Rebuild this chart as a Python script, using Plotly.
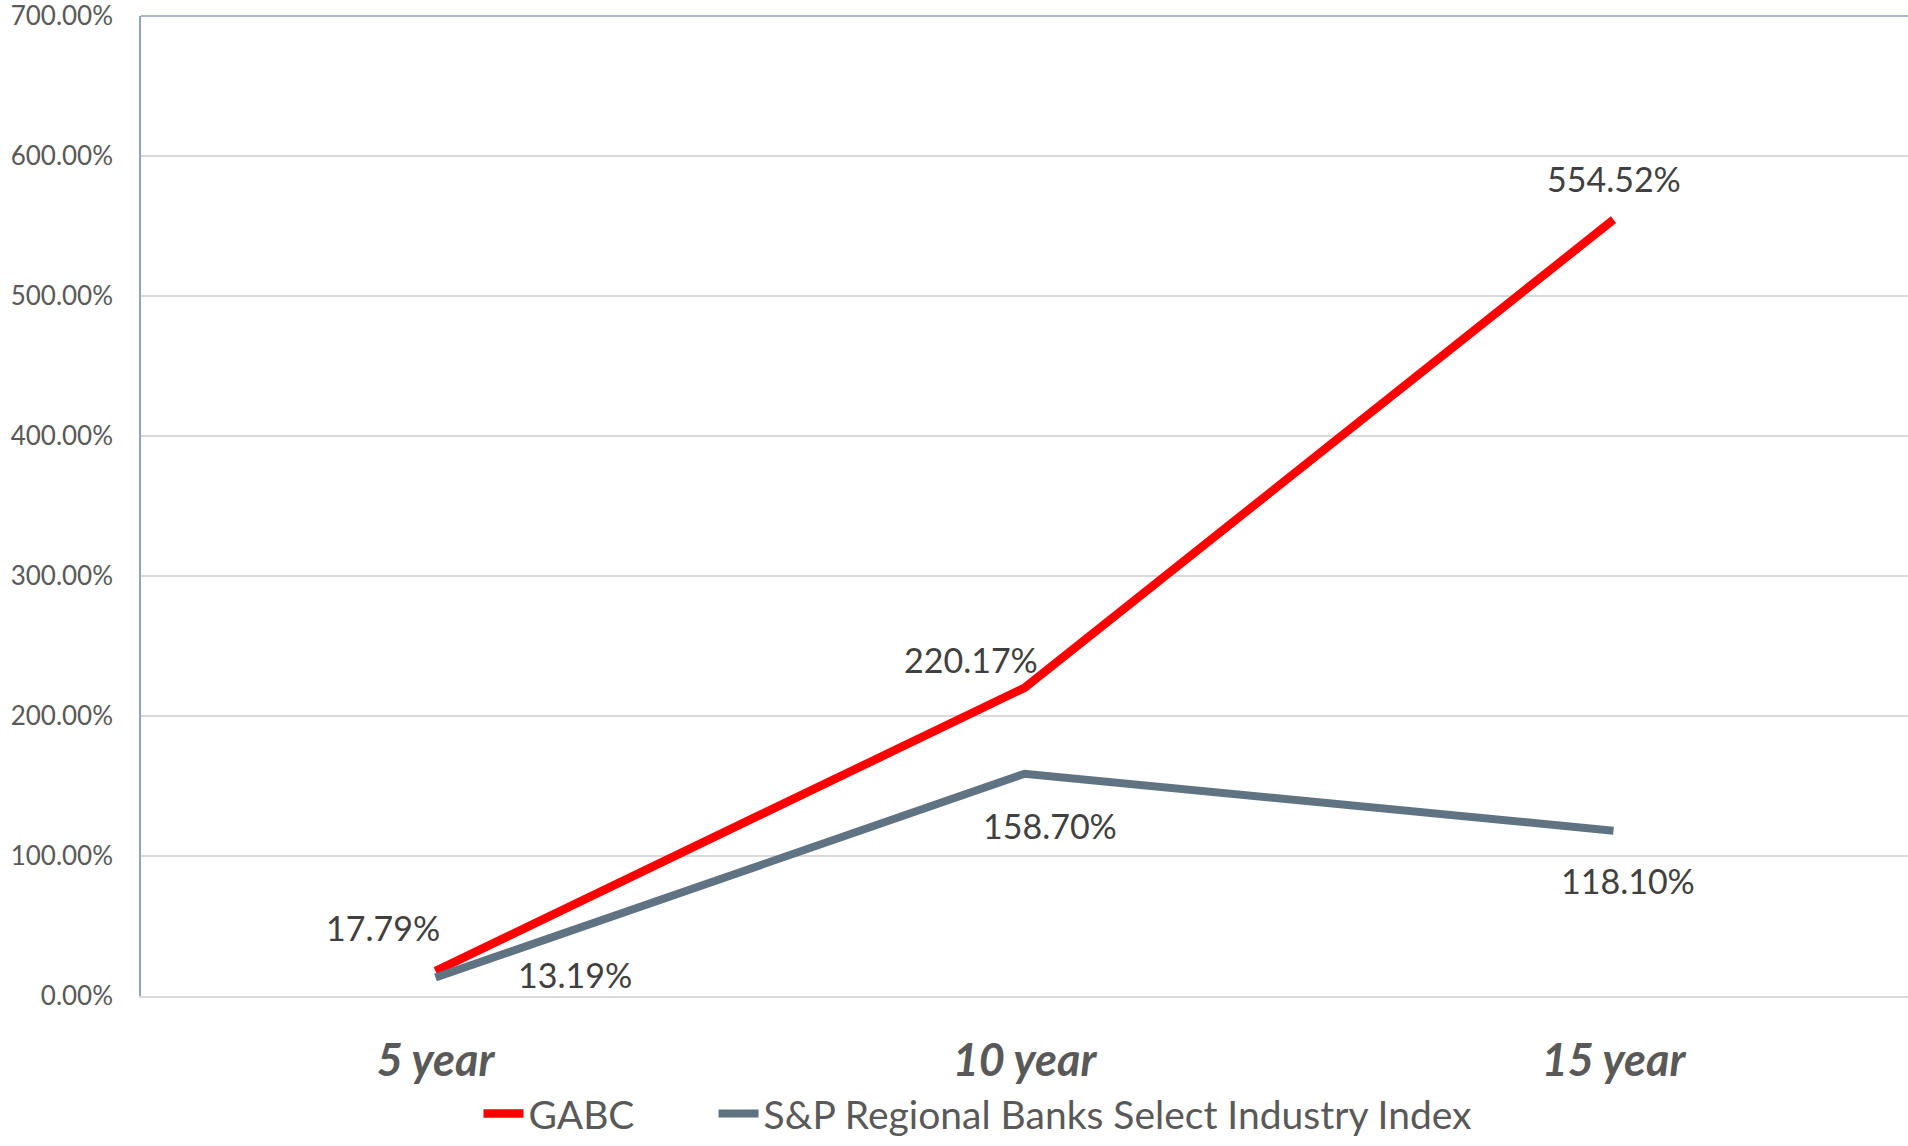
import plotly.graph_objects as go

categories = ["5 year", "10 year", "15 year"]
gabc = [17.79, 220.17, 554.52]
sp_index = [13.19, 158.70, 118.10]
series_names = ["GABC", "S&P Regional Banks Select Industry Index"]
y_ticks = [0, 100, 200, 300, 400, 500, 600, 700]

FONT = "Lato, Carlito, Calibri, sans-serif"
RED = "#FF0000"
GRAY = "#5F7382"

fig = go.Figure()
fig.add_trace(go.Scatter(x=categories, y=gabc, mode="lines", name=series_names[0],
                         line=dict(color=RED, width=8.5), legend="legend"))
fig.add_trace(go.Scatter(x=categories, y=sp_index, mode="lines", name=series_names[1],
                         line=dict(color=GRAY, width=8), legend="legend2"))

# data label offsets (pixels) per point
gabc_off = [(-53, 44), (-54, 28), (0, 41)]
sp_off = [(139, 3), (25, -52), (14, -50)]
for cat, v, (dx, dy) in zip(categories, gabc, gabc_off):
    fig.add_annotation(x=cat, y=v, text=f"{v:.2f}%", showarrow=False,
                       xshift=dx, yshift=dy, font=dict(size=34, color="#404040", family=FONT))
for cat, v, (dx, dy) in zip(categories, sp_index, sp_off):
    fig.add_annotation(x=cat, y=v, text=f"{v:.2f}%", showarrow=False,
                       xshift=dx, yshift=dy, font=dict(size=34, color="#404040", family=FONT))

# top border line
fig.add_shape(type="line", xref="paper", yref="paper", x0=0, x1=1, y0=1, y1=1,
              line=dict(color="#8EA2C4", width=1.5))

legend_common = dict(orientation="h", yanchor="middle", y=-0.12, xanchor="left",
                     font=dict(size=39, color="#595959", family=FONT),
                     itemwidth=40, bgcolor="rgba(0,0,0,0)")

fig.update_layout(
    width=1908, height=1146,
    margin=dict(l=141, r=0, t=16, b=146),
    plot_bgcolor="white", paper_bgcolor="white",
    font=dict(family=FONT, color="#595959"),
    showlegend=True,
    legend=dict(x=0.191, **legend_common),
    legend2=dict(x=0.324, **legend_common),
    xaxis=dict(type="category", range=[-0.5, 2.5], showgrid=False,
               showline=True, linecolor="#D9D9D9", linewidth=2,
               ticks="", tickfont=dict(size=45, color="#595959", family=FONT),
               ticklabelstandoff=24, tickprefix="<b><i>", ticksuffix="</i></b>"),
    yaxis=dict(range=[0, 700], tickvals=y_ticks,
               ticktext=[f"{t:.2f}%" for t in y_ticks],
               showgrid=True, gridcolor="#D9D9D9", gridwidth=1.5,
               showline=True, linecolor="#8EA2C4", linewidth=1.5,
               zeroline=False, ticks="", ticklabelstandoff=21,
               ticklabeloverflow="allow",
               tickfont=dict(size=26, color="#595959", family=FONT)),
)

fig.write_html("out.html")
